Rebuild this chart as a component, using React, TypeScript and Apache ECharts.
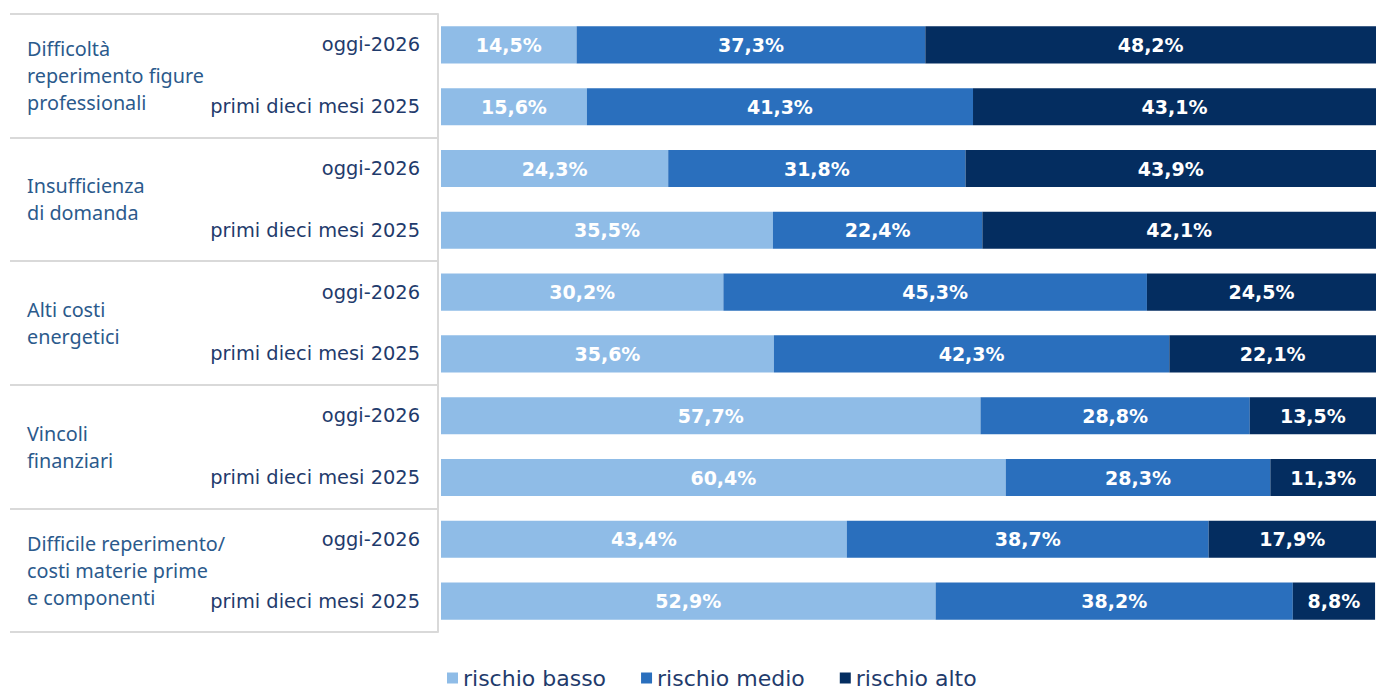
import React, { useEffect, useRef } from "react";
import * as echarts from "echarts";

const groups = [
  "Difficoltà\nreperimento figure\nprofessionali",
  "Insufficienza\ndi domanda",
  "Alti costi\nenergetici",
  "Vincoli\nfinanziari",
  "Difficile reperimento/\ncosti materie prime\ne componenti",
];

const periods = [
  "oggi-2026", "primi dieci mesi 2025",
  "oggi-2026", "primi dieci mesi 2025",
  "oggi-2026", "primi dieci mesi 2025",
  "oggi-2026", "primi dieci mesi 2025",
  "oggi-2026", "primi dieci mesi 2025",
];

const rischioBasso = [14.5, 15.6, 24.3, 35.5, 30.2, 35.6, 57.7, 60.4, 43.4, 52.9];
const rischioMedio = [37.3, 41.3, 31.8, 22.4, 45.3, 42.3, 28.8, 28.3, 38.7, 38.2];
const rischioAlto = [48.2, 43.1, 43.9, 42.1, 24.5, 22.1, 13.5, 11.3, 17.9, 8.8];

const seriesNames = ["rischio basso", "rischio medio", "rischio alto"];
const colors = ["#8fbce7", "#2a6fbd", "#042d60"];

export default function App() {
  const ref = useRef<HTMLDivElement>(null);

  useEffect(() => {
    document.body.style.margin = "0";
    if (!ref.current) return;
    const chart = echarts.init(ref.current, undefined, { renderer: "svg" });
    const labelStyle = {
      show: true,
      position: "inside",
      color: "#ffffff",
      fontFamily: "DejaVu Sans",
      fontWeight: "bold",
      fontSize: 19,
      formatter: (p: any) => String(p.value.toFixed(1)).replace(".", ",") + "%",
    };
    const values = [rischioBasso, rischioMedio, rischioAlto];
    chart.setOption({
      animation: false,
      backgroundColor: "#ffffff",
      grid: { left: 441, top: 14, height: 618, width: 942 },
      xAxis: { type: "value", min: 0, max: 100, show: false },
      yAxis: [
        {
          type: "category",
          inverse: true,
          data: periods,
          axisLine: { show: false },
          axisTick: { show: false },
          axisLabel: {
            margin: 21,
            color: "#1f3b6c",
            fontFamily: "DejaVu Sans",
            fontSize: 19.4,
          },
        },
        {
          type: "category",
          inverse: true,
          position: "left",
          offset: 3,
          data: groups,
          axisLine: { show: true, lineStyle: { color: "#d9d9d9", width: 2 } },
          axisTick: {
            show: true,
            interval: 0,
            length: 428,
            lineStyle: { color: "#d9d9d9", width: 2 },
          },
          axisLabel: {
            align: "left",
            margin: 411,
            color: "#2b5a8c",
            fontFamily: "Noto Sans",
            fontSize: 19.8,
            lineHeight: 27,
          },
        },
      ],
      legend: {
        left: 447,
        top: 667,
        icon: "rect",
        itemWidth: 11,
        itemHeight: 11,
        itemGap: 35,
        padding: 0,
        textStyle: {
          color: "#1f3b6c",
          fontFamily: "DejaVu Sans",
          fontSize: 22,
          lineHeight: 22,
        },
        data: seriesNames,
      },
      series: seriesNames.map((name, i) => ({
        name,
        type: "bar",
        stack: "total",
        yAxisIndex: 0,
        barCategoryGap: "40%",
        itemStyle: { color: colors[i] },
        label: labelStyle,
        data: values[i],
      })),
    });
    return () => chart.dispose();
  }, []);

  return <div ref={ref} style={{ width: 1376, height: 691 }} />;
}
